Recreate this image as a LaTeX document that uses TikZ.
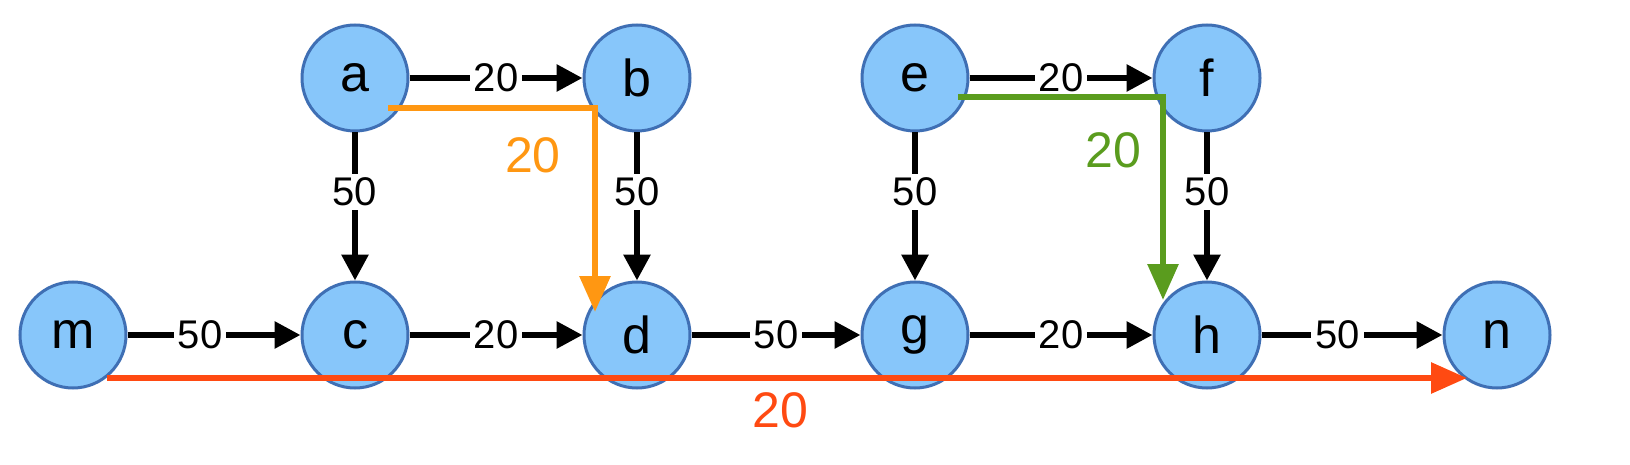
\documentclass[tikz,border=0pt]{standalone}
\usepackage{fontspec}
\setmainfont{Liberation Sans}
\usetikzlibrary{arrows.meta}
\definecolor{nfill}{HTML}{87C6FA}
\definecolor{nline}{HTML}{3F6FB4}
\definecolor{corange}{HTML}{FF9712}
\definecolor{cgreen}{HTML}{5A9C1E}
\definecolor{cred}{HTML}{FF4A12}
\begin{document}
\begin{tikzpicture}[x=1pt,y=-1pt,
  v/.style={circle,draw=nline,fill=nfill,line width=3pt,minimum size=106pt,inner sep=0pt,font=\fontsize{52}{52}\selectfont},
  e/.style={line width=6pt,-{Triangle[length=26pt,width=26pt]}},
  lab/.style={fill=white,inner sep=4pt,font=\fontsize{40}{40}\selectfont},
  p/.style={line width=6pt,-{Triangle[length=36pt,width=30pt]}},
  plab/.style={font=\fontsize{50}{50}\selectfont}]
\useasboundingbox (0,0) rectangle (1630,465);
\node[v] (a) at (355,78) {a};
\node[v] (b) at (637,78) {b};
\node[v] (e) at (915,78) {e};
\node[v] (f) at (1207,78) {f};
\node[v] (m) at (73,335) {m};
\node[v] (c) at (355,335) {c};
\node[v] (d) at (637,335) {d};
\node[v] (g) at (915,335) {g};
\node[v] (h) at (1207,335) {h};
\node[v] (n) at (1497,335) {n};
\draw[e] (a) -- node[lab]{20} (b);
\draw[e] (e) -- node[lab]{20} (f);
\draw[e] (a) -- node[lab,pos=0.4]{50} (c);
\draw[e] (b) -- node[lab,pos=0.4]{50} (d);
\draw[e] (e) -- node[lab,pos=0.4]{50} (g);
\draw[e] (f) -- node[lab,pos=0.4]{50} (h);
\draw[e] (m) -- node[lab,pos=0.42]{50} (c);
\draw[e] (c) -- node[lab]{20} (d);
\draw[e] (d) -- node[lab]{50} (g);
\draw[e] (g) -- node[lab]{20} (h);
\draw[e] (h) -- node[lab,pos=0.42]{50} (n);
\coordinate (o1) at (388,108); \coordinate (o2) at (595,108); \coordinate (o3) at (595,312);
\draw[p,corange] (o1) -- (o2) -- (o3);
\node[plab,text=corange] (ol) at (533,155) {20};
\coordinate (g1) at (958,97); \coordinate (g2) at (1163,97); \coordinate (g3) at (1163,300);
\draw[p,cgreen] (g1) -- (g2) -- (g3);
\node[plab,text=cgreen] (gl) at (1113,150) {20};
\coordinate (r1) at (107,378); \coordinate (r2) at (1467,378);
\draw[p,cred] (r1) -- (r2);
\node[plab,text=cred] (rl) at (780,410) {20};
\end{tikzpicture}
\end{document}
